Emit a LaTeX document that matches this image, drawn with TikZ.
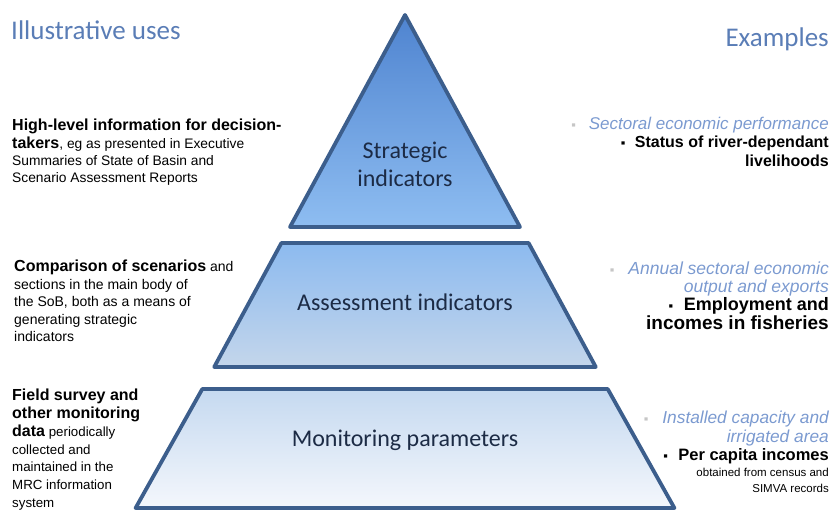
\documentclass[tikz,border=0pt]{standalone}
\usepackage{fontspec}
\setmainfont{Liberation Sans}
\newfontfamily\calfont{Carlito}
\usetikzlibrary{positioning}
\definecolor{edgeblue}{HTML}{3C5E8C}
\definecolor{headblue}{HTML}{5A7DB6}
\definecolor{exblue}{HTML}{7B9AD0}
\definecolor{labnavy}{HTML}{1C2B45}
\definecolor{topa}{HTML}{4F84D0}
\definecolor{topb}{HTML}{8EBDF1}
\definecolor{mida}{HTML}{8CBAEF}
\definecolor{midb}{HTML}{C4D6EB}
\definecolor{bota}{HTML}{C5D9F0}
\definecolor{botb}{HTML}{F4F7FC}
\tikzset{
	level/.style={draw=edgeblue, line width=3.8pt, line join=round},
	uses/.style={inner sep=0pt, align=left, font=\fontsize{13.8}{17.4}\selectfont},
	examples/.style={inner sep=0pt, align=right, font=\fontsize{16}{18.5}\selectfont},
	lab/.style={font=\calfont\fontsize{24}{28}\selectfont, text=labnavy, align=center},
	head/.style={font=\calfont\fontsize{27}{30}\selectfont, text=headblue, inner sep=0pt}
}
\newcommand{\usebold}[1]{{\bfseries\fontsize{16}{17.4}\selectfont #1}}
\newcommand{\exit}[2]{{\color{gray!45}\fontsize{13}{10}\selectfont\char"25AA}\hspace{0.8em}{\color{exblue}\itshape\fontsize{#1}{18.5}\selectfont #2}}
\newcommand{\exbold}[2]{{\fontsize{13}{10}\selectfont\char"25AA}\hspace{0.6em}{\bfseries\fontsize{#1}{18.5}\selectfont #2}}

\begin{document}
\begin{tikzpicture}[x=1pt,y=1pt]
	\useasboundingbox (0,0) rectangle (839,511);
	% pyramid levels
	\draw[level, top color=topa, bottom color=topb] (405,496) -- (520,284) -- (290,284) -- cycle;
	\draw[level, top color=mida, bottom color=midb] (281.4,268) -- (528.6,268) -- (595.8,144) -- (214.2,144) -- cycle;
	\draw[level, top color=bota, bottom color=botb] (202.3,122) -- (607.7,122) -- (674.4,3) -- (135.6,3) -- cycle;
	\node[lab] (strat) at (405,347) {Strategic\\indicators};
	\node[lab] (assess) at (405,209) {Assessment indicators};
	\node[lab] (monit) at (405,71) {Monitoring parameters};
	% headings
	\node[head, anchor=west] (uses) at (11,481) {Illustrative uses};
	\node[head, anchor=east] (examples) at (829,472) {Examples};
	% left column
	\node[uses, anchor=north west] (usestrat) at (12,392) {\usebold{High-level information for decision-}\\\usebold{takers}, eg as presented in Executive\\Summaries of State of Basin and\\Scenario Assessment Reports};
	\node[uses, anchor=north west, font=\fontsize{14}{17.5}\selectfont] (useassess) at (14,251) {\usebold{Comparison of scenarios} and\\sections in the main body of\\the SoB, both as a means of\\generating strategic\\indicators};
	\node[uses, anchor=north west, font=\fontsize{13.3}{17.8}\selectfont] (usemonit) at (12,122) {{\bfseries\fontsize{16}{17.8}\selectfont Field survey and}\\{\bfseries\fontsize{16}{17.8}\selectfont other monitoring}\\{\bfseries\fontsize{16}{17.8}\selectfont data} periodically\\collected and\\maintained in the\\MRC information\\system};
	% right column
	\node[examples, anchor=north east] (exstrat) at (829,394.5) {\exit{17}{Sectoral economic performance}\\\exbold{16}{Status of river-dependant}\\{\bfseries livelihoods}};
	\node[examples, anchor=north east, font=\fontsize{17.5}{18.3}\selectfont] (exassess) at (829,249.5) {\exit{17.5}{Annual sectoral economic}\\{\color{exblue}\itshape output and exports}\\\exbold{18}{Employment and}\\{\bfseries\fontsize{19}{18.3}\selectfont incomes in fisheries}};
	\node[examples, anchor=north east, font=\fontsize{17.3}{18.5}\selectfont] (exmonit) at (829,100) {\exit{17.3}{Installed capacity and}\\{\color{exblue}\itshape irrigated area}\\\exbold{16.5}{Per capita incomes}\\[-3pt]{\fontsize{11.5}{14}\selectfont obtained from census and}\\[-2pt]{\fontsize{11.5}{15}\selectfont SIMVA records}};
\end{tikzpicture}
\end{document}
